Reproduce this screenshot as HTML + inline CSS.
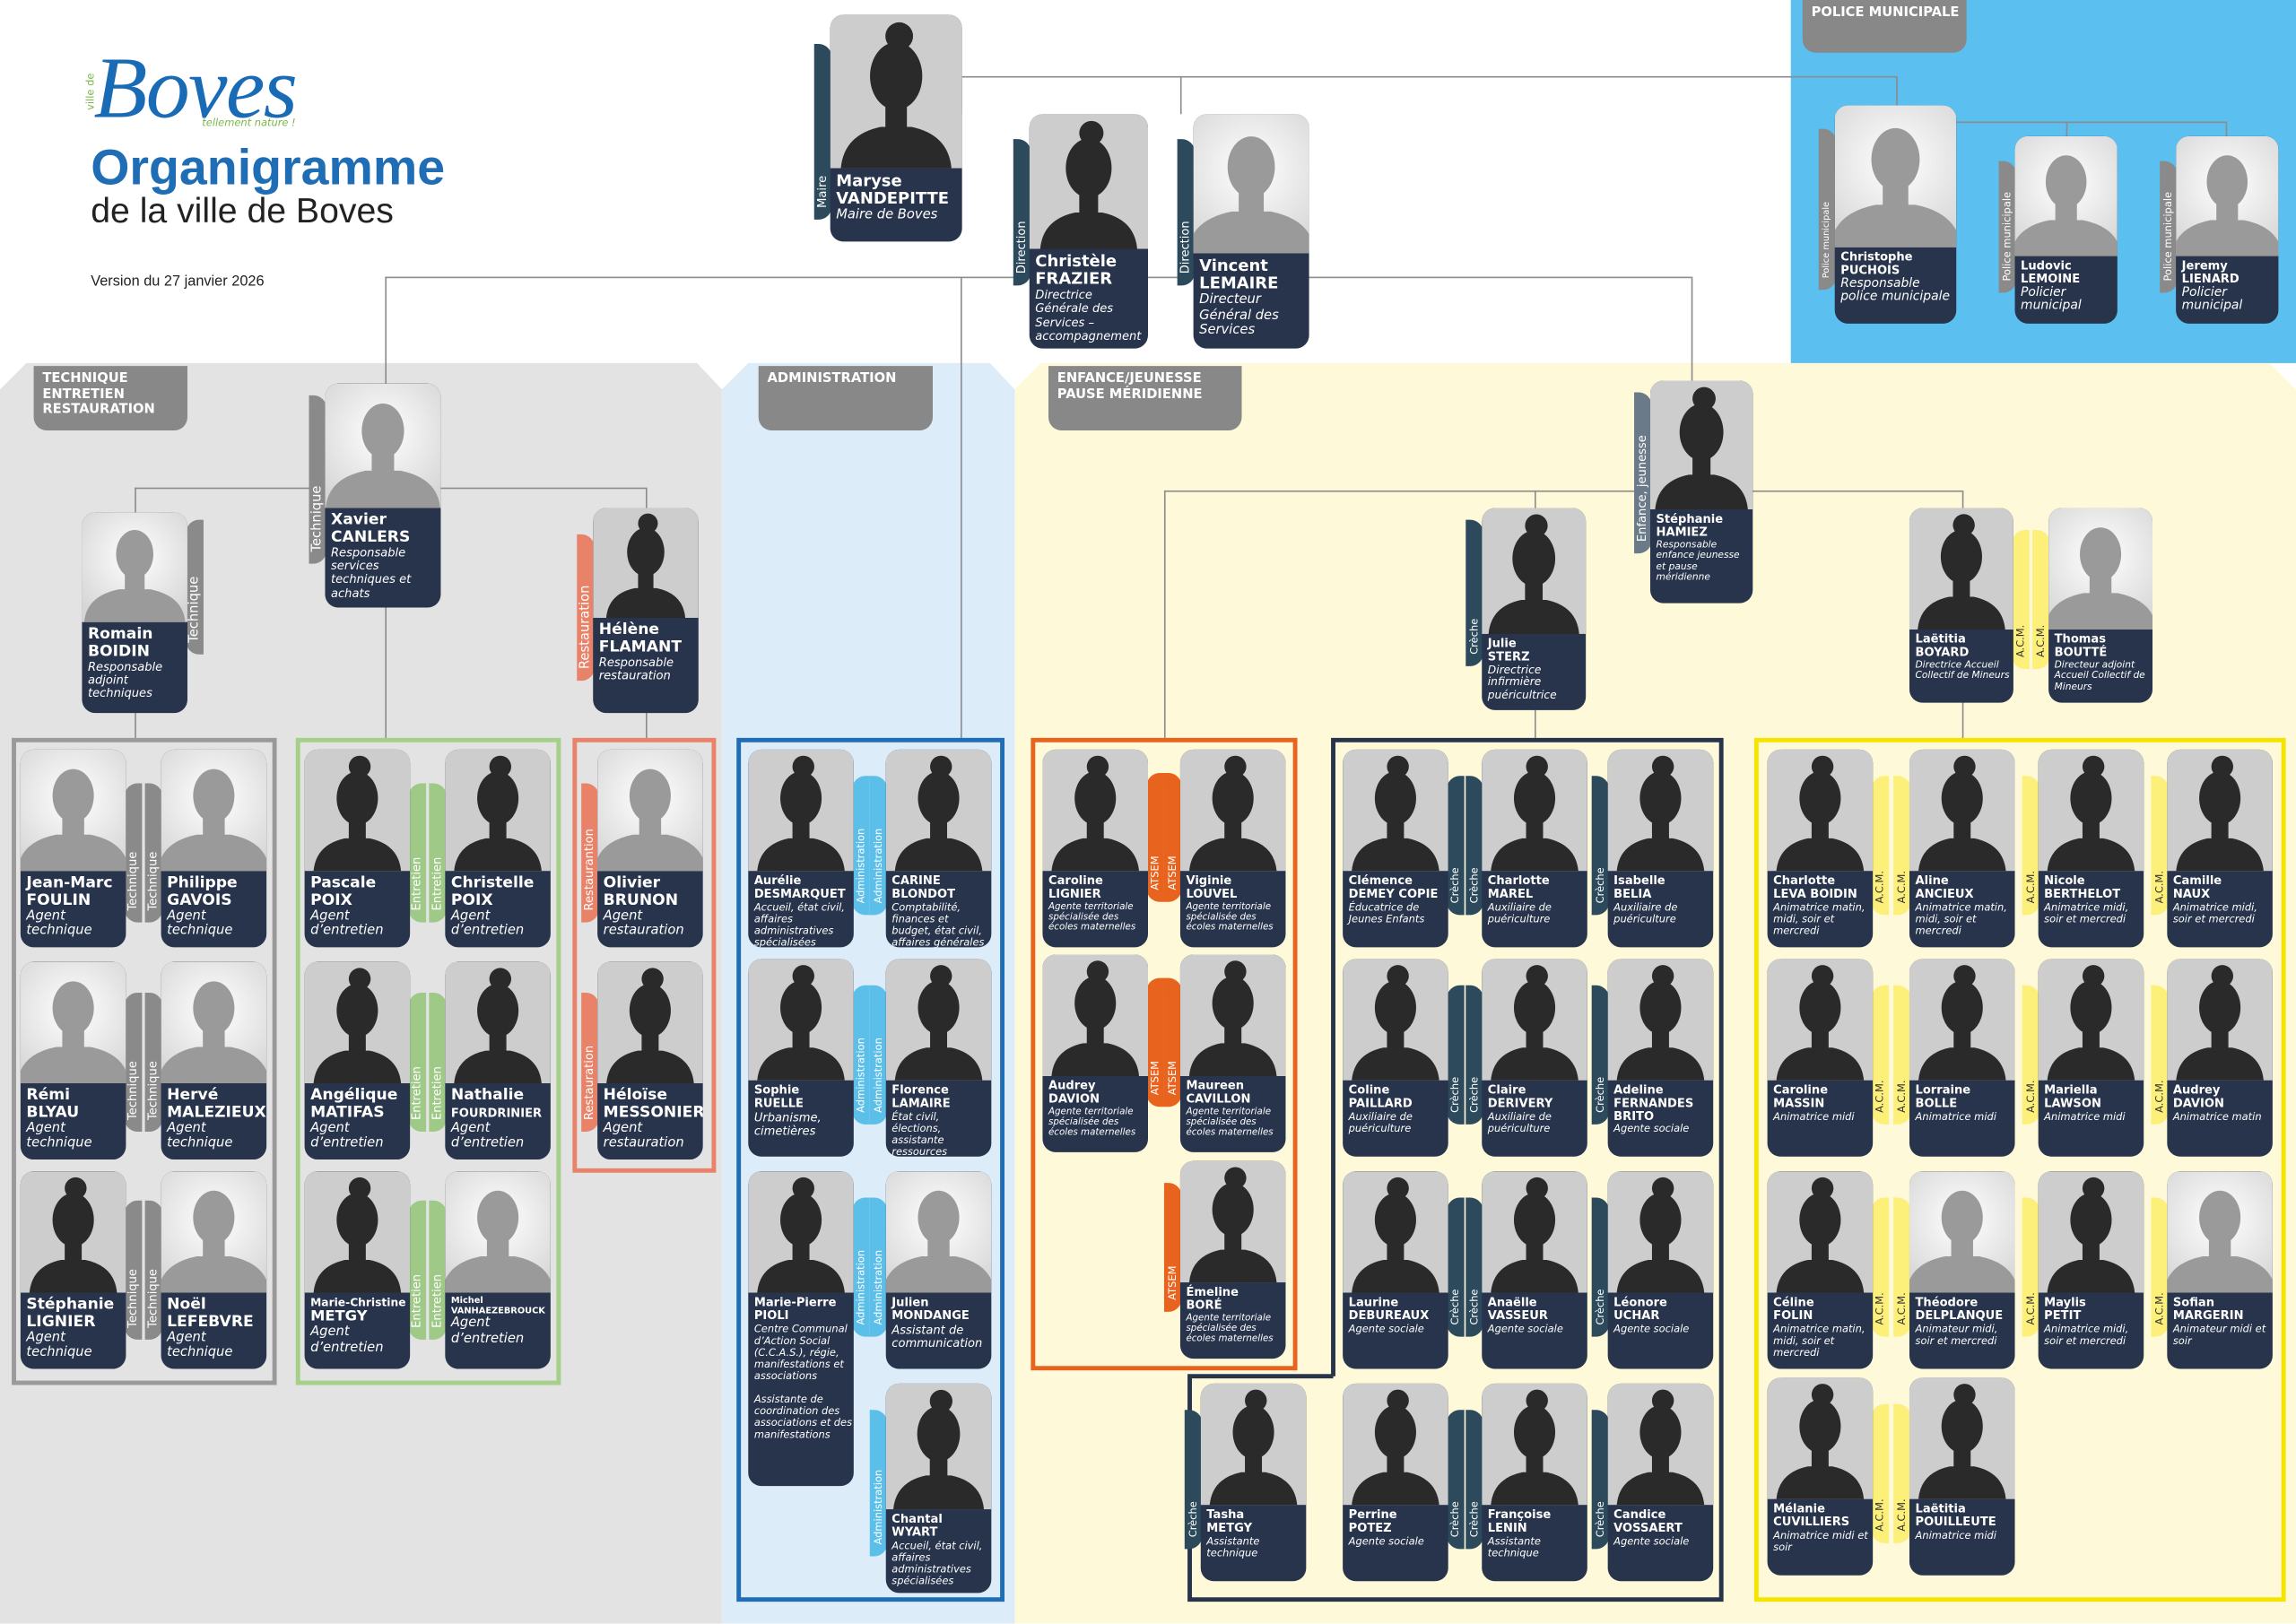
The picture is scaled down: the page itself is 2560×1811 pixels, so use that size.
<!DOCTYPE html>
<html><head><meta charset="utf-8">
<style>
html,body{margin:0;padding:0;background:#fff;overflow:hidden}
body{width:2560px;height:1810px}
#w{position:absolute;left:0;top:0;width:1568px;height:1109px;transform:scale(1.632653);transform-origin:0 0;font-family:"DejaVu Sans","Liberation Sans",sans-serif}
.a{position:absolute}
.hl{position:absolute;height:1px;background:#8c8c8c}
.vl{position:absolute;width:1px;background:#8c8c8c}
.c{position:absolute;background:#27344b;border-radius:9px;overflow:hidden;z-index:3;width:72px;height:135px;--h:83px}
.c svg{position:absolute;left:0;top:0;width:100%;height:var(--h)}
.c .t{position:absolute;left:4px;right:1px;top:var(--h);padding-top:3px;color:#fff;line-height:1.1}
.n{font-weight:bold;font-size:10.5px;display:block}
.s .n{font-size:8px}
.r{font-style:italic;font-size:9px;display:block;line-height:1.15}
.s .r{font-size:7px}
.tb{position:absolute;width:12px;color:#fff;font-size:8px;writing-mode:vertical-rl;transform:rotate(180deg);z-index:2;white-space:nowrap;line-height:12px;padding-top:8px;box-sizing:border-box;overflow:hidden}
.L{border-radius:0 9px 9px 0}
.R{border-radius:9px 0 0 9px}
.gy{background:#8a8a8a}.gn{background:#9fc987}.or{background:#e8836a}.bl{background:#5bbfe9}.at{background:#e8641e}.cr{background:#2d4a5c}.ye{background:#fdf07a;color:#333}
.lab{position:absolute;background:#888;color:#fff;font-weight:bold;font-size:9px;line-height:10.5px;padding:4px 6px;box-sizing:border-box;border-radius:0 0 9px 9px;white-space:nowrap}
.box{position:absolute;box-sizing:border-box;border-width:3px;border-style:solid}
</style></head><body>
<svg width="0" height="0" style="position:absolute">
<defs>
<radialGradient id="g" cx="50%" cy="40%" r="65%"><stop offset="0" stop-color="#fff"/><stop offset="1" stop-color="#d6d6d6"/></radialGradient>
<symbol id="F" viewBox="0 0 100 100"><rect width="100" height="100" fill="#cdcdcd"/><g fill="#2a2a2a"><circle cx="52" cy="14" r="9"/><ellipse cx="50" cy="40" rx="17" ry="22"/><rect x="43" y="55" width="14" height="22"/><path d="M14 100 Q16 78 40 73 L60 73 Q84 78 86 100Z"/></g></symbol>
<symbol id="M" viewBox="0 0 100 100"><rect width="100" height="100" fill="url(#g)"/><g fill="#9a9a9a"><ellipse cx="50" cy="38" rx="17" ry="22"/><rect x="41" y="52" width="18" height="22"/><path d="M4 100 Q6 76 36 70 L64 70 Q94 76 96 100Z"/></g></symbol>
</defs></svg>
<div id="w">
<svg class="a" style="left:0;top:0" width="1568" height="1109">
<polygon points="0,266 18,248 476,248 493,266 493,1109 0,1109" fill="#e3e3e3"/>
<polygon points="493,266 511,248 676,248 693,266 693,1109 493,1109" fill="#dcecf9"/>
<polygon points="693,266 711,248 1550,248 1568,266 1568,1109 693,1109" fill="#fef9d8"/>
<rect x="1223" y="0" width="345" height="248" fill="#5bc0f0"/>
</svg>
<div class="a" style="left:64px;top:26px;font-family:'Liberation Serif',serif;font-style:italic;font-size:60px;color:#1a6bb5;letter-spacing:-1px">Boves</div>
<div class="a" style="left:58px;top:50px;font-size:7px;color:#7ab648;writing-mode:vertical-rl;transform:rotate(180deg)">ville de</div>
<div class="a" style="left:138px;top:80px;font-size:7px;color:#7ab648;font-style:italic">tellement nature !</div>
<div class="a" style="left:62px;top:96px;font-size:34px;font-weight:bold;color:#1f6db5;font-family:'Liberation Sans',sans-serif">Organigramme</div>
<div class="a" style="left:62px;top:131px;font-size:24px;color:#222;font-family:'Liberation Sans',sans-serif">de la ville de Boves</div>
<div class="a" style="left:62px;top:187px;font-size:10px;color:#222;font-family:'Liberation Sans',sans-serif">Version du 27 janvier 2026</div>
<div class="lab" style="left:23px;top:250px;width:105px;height:44px">TECHNIQUE<br>ENTRETIEN<br>RESTAURATION</div>
<div class="lab" style="left:518px;top:250px;width:119px;height:44px">ADMINISTRATION</div>
<div class="lab" style="left:716px;top:250px;width:132px;height:44px">ENFANCE/JEUNESSE<br>PAUSE MÉRIDIENNE</div>
<div class="lab" style="left:1231px;top:0;width:112px;height:36px">POLICE MUNICIPALE</div>
<div class="hl" style="left:657px;top:52px;width:638px"></div>
<div class="vl" style="left:1295px;top:52px;height:20px"></div>
<div class="vl" style="left:656px;top:52px;height:26px"></div>
<div class="vl" style="left:806px;top:52px;height:26px"></div>
<div class="hl" style="left:1336px;top:83px;width:184px"></div>
<div class="vl" style="left:1411px;top:83px;height:10px"></div>
<div class="vl" style="left:1520px;top:83px;height:10px"></div>
<div class="hl" style="left:263px;top:189px;width:892px"></div>
<div class="vl" style="left:263px;top:189px;height:73px"></div>
<div class="vl" style="left:656px;top:189px;height:316px"></div>
<div class="vl" style="left:1155px;top:189px;height:71px"></div>
<div class="hl" style="left:92px;top:333px;width:349px"></div>
<div class="vl" style="left:92px;top:333px;height:172px"></div>
<div class="vl" style="left:441px;top:333px;height:172px"></div>
<div class="vl" style="left:263px;top:333px;height:172px"></div>
<div class="hl" style="left:795px;top:335px;width:545px"></div>
<div class="vl" style="left:795px;top:335px;height:170px"></div>
<div class="vl" style="left:1048px;top:335px;height:170px"></div>
<div class="vl" style="left:1340px;top:335px;height:170px"></div>
<div class="box" style="left:8px;top:504px;width:181px;height:442px;border-color:#9a9a9a"></div>
<div class="box" style="left:202px;top:504px;width:181px;height:442px;border-color:#a6cf8a"></div>
<div class="box" style="left:391px;top:504px;width:98px;height:297px;border-color:#e8836a"></div>
<div class="box" style="left:503px;top:504px;width:183px;height:590px;border-color:#1f6db5"></div>
<div class="box" style="left:704px;top:504px;width:182px;height:432px;border-color:#e8641e"></div>
<svg class="a" style="left:0;top:0;z-index:1" width="1568" height="1109"><polyline points="910.5,940 910.5,505.5 1175.5,505.5 1175.5,1092.5 812.5,1092.5 812.5,940 910.5,940" fill="none" stroke="#27344b" stroke-width="3"/></svg>
<div class="box" style="left:1198px;top:504px;width:363px;height:590px;border-color:#f5e400"></div>

<div class="tb cr R" style="left:556px;top:30px;height:120px;background:#2d4a5c">Maire</div>
<div class="c" style="left:567px;top:10px;width:90px;height:155px;--h:105px"><svg viewBox="0 0 100 100" preserveAspectRatio="xMidYMax slice"><use href="#F" width="100" height="100"/></svg><div class="t"><span class="n" style="font-size:11px">Maryse<br>VANDEPITTE</span><span class="r" style="font-size:9px">Maire de Boves</span></div></div>
<div class="tb cr R" style="left:692px;top:95px;height:100px">Direction</div>
<div class="c" style="left:703px;top:78px;width:81px;height:160px;--h:92px"><svg viewBox="0 0 100 100" preserveAspectRatio="xMidYMax slice"><use href="#F" width="100" height="100"/></svg><div class="t"><span class="n" style="font-size:11px">Christèle<br>FRAZIER</span><span class="r" style="font-size:8px">Directrice Générale des Services – accompagnement</span></div></div>
<div class="tb cr R" style="left:804px;top:95px;height:100px">Direction</div>
<div class="c" style="left:815px;top:78px;width:79px;height:160px;--h:95px"><svg viewBox="0 0 100 100" preserveAspectRatio="xMidYMax slice"><use href="#M" width="100" height="100"/></svg><div class="t"><span class="n" style="font-size:11px">Vincent<br>LEMAIRE</span><span class="r" style="font-size:9px">Directeur Général des Services</span></div></div>
<div class="tb gy R" style="left:1242px;top:88px;height:110px;font-size:6px">Police municipale</div>
<div class="c s" style="left:1253px;top:72px;width:83px;height:149px;--h:97px"><svg viewBox="0 0 100 100" preserveAspectRatio="xMidYMax slice"><use href="#M" width="100" height="100"/></svg><div class="t"><span class="n">Christophe<br>PUCHOIS</span><span class="r" style="font-size:8.5px">Responsable police municipale</span></div></div>
<div class="tb gy R" style="left:1365px;top:110px;height:90px;font-size:7px">Police municipale</div>
<div class="c s" style="left:1376px;top:93px;width:70px;height:128px;--h:82px"><svg viewBox="0 0 100 100" preserveAspectRatio="xMidYMax slice"><use href="#M" width="100" height="100"/></svg><div class="t"><span class="n">Ludovic<br>LEMOINE</span><span class="r" style="font-size:8.5px">Policier municipal</span></div></div>
<div class="tb gy R" style="left:1475px;top:110px;height:90px;font-size:7px">Police municipale</div>
<div class="c s" style="left:1486px;top:93px;width:70px;height:128px;--h:82px"><svg viewBox="0 0 100 100" preserveAspectRatio="xMidYMax slice"><use href="#M" width="100" height="100"/></svg><div class="t"><span class="n">Jeremy<br>LIENARD</span><span class="r" style="font-size:8.5px">Policier municipal</span></div></div>

<div class="tb gy R" style="left:211px;top:270px;height:115px;font-size:9px">Technique</div>
<div class="c" style="left:222px;top:262px;width:79px;height:153px;--h:85px"><svg viewBox="0 0 100 100" preserveAspectRatio="xMidYMax slice"><use href="#M" width="100" height="100"/></svg><div class="t"><span class="n">Xavier<br>CANLERS</span><span class="r" style="font-size:8px">Responsable services techniques et achats</span></div></div>
<div class="tb gy L" style="left:127px;top:355px;height:92px;font-size:9px">Technique</div>
<div class="c" style="left:56px;top:350px;width:72px;height:137px;--h:75px"><svg viewBox="0 0 100 100" preserveAspectRatio="xMidYMax slice"><use href="#M" width="100" height="100"/></svg><div class="t"><span class="n">Romain<br>BOIDIN</span><span class="r" style="font-size:8px">Responsable adjoint techniques</span></div></div>
<div class="tb or R" style="left:394px;top:365px;height:100px;font-size:9px">Restauration</div>
<div class="c" style="left:405px;top:347px;width:72px;height:140px;--h:75px"><svg viewBox="0 0 100 100" preserveAspectRatio="xMidYMax slice"><use href="#F" width="100" height="100"/></svg><div class="t"><span class="n">Hélène<br>FLAMANT</span><span class="r" style="font-size:8px">Responsable restauration</span></div></div>

<div class="tb gy L" style="left:85px;top:535px;height:95px">Technique</div>
<div class="c" style="left:14px;top:512px"><svg viewBox="0 0 100 100" preserveAspectRatio="xMidYMax slice"><use href="#M" width="100" height="100"/></svg><div class="t"><span class="n">Jean-Marc<br>FOULIN</span><span class="r">Agent technique</span></div></div>
<div class="tb gy R" style="left:99px;top:535px;height:95px">Technique</div>
<div class="c" style="left:110px;top:512px"><svg viewBox="0 0 100 100" preserveAspectRatio="xMidYMax slice"><use href="#M" width="100" height="100"/></svg><div class="t"><span class="n">Philippe<br>GAVOIS</span><span class="r">Agent technique</span></div></div>
<div class="tb gy L" style="left:85px;top:678px;height:95px">Technique</div>
<div class="c" style="left:14px;top:657px"><svg viewBox="0 0 100 100" preserveAspectRatio="xMidYMax slice"><use href="#M" width="100" height="100"/></svg><div class="t"><span class="n">Rémi<br>BLYAU</span><span class="r">Agent technique</span></div></div>
<div class="tb gy R" style="left:99px;top:678px;height:95px">Technique</div>
<div class="c" style="left:110px;top:657px"><svg viewBox="0 0 100 100" preserveAspectRatio="xMidYMax slice"><use href="#M" width="100" height="100"/></svg><div class="t"><span class="n">Hervé<br>MALEZIEUX</span><span class="r">Agent technique</span></div></div>
<div class="tb gy L" style="left:85px;top:820px;height:95px">Technique</div>
<div class="c" style="left:14px;top:800px"><svg viewBox="0 0 100 100" preserveAspectRatio="xMidYMax slice"><use href="#F" width="100" height="100"/></svg><div class="t"><span class="n">Stéphanie<br>LIGNIER</span><span class="r">Agent technique</span></div></div>
<div class="tb gy R" style="left:99px;top:820px;height:95px">Technique</div>
<div class="c" style="left:110px;top:800px"><svg viewBox="0 0 100 100" preserveAspectRatio="xMidYMax slice"><use href="#M" width="100" height="100"/></svg><div class="t"><span class="n">Noël<br>LEFEBVRE</span><span class="r">Agent technique</span></div></div>

<div class="tb gn L" style="left:279px;top:535px;height:95px">Entretien</div>
<div class="c" style="left:208px;top:512px"><svg viewBox="0 0 100 100" preserveAspectRatio="xMidYMax slice"><use href="#F" width="100" height="100"/></svg><div class="t"><span class="n">Pascale<br>POIX</span><span class="r">Agent d’entretien</span></div></div>
<div class="tb gn R" style="left:293px;top:535px;height:95px">Entretien</div>
<div class="c" style="left:304px;top:512px"><svg viewBox="0 0 100 100" preserveAspectRatio="xMidYMax slice"><use href="#F" width="100" height="100"/></svg><div class="t"><span class="n">Christelle<br>POIX</span><span class="r">Agent d’entretien</span></div></div>
<div class="tb gn L" style="left:279px;top:678px;height:95px">Entretien</div>
<div class="c" style="left:208px;top:657px"><svg viewBox="0 0 100 100" preserveAspectRatio="xMidYMax slice"><use href="#F" width="100" height="100"/></svg><div class="t"><span class="n">Angélique<br>MATIFAS</span><span class="r">Agent d’entretien</span></div></div>
<div class="tb gn R" style="left:293px;top:678px;height:95px">Entretien</div>
<div class="c" style="left:304px;top:657px"><svg viewBox="0 0 100 100" preserveAspectRatio="xMidYMax slice"><use href="#F" width="100" height="100"/></svg><div class="t"><span class="n">Nathalie<br><span style="font-size:8px">FOURDRINIER</span></span><span class="r">Agent d’entretien</span></div></div>
<div class="tb gn L" style="left:279px;top:820px;height:95px">Entretien</div>
<div class="c" style="left:208px;top:800px"><svg viewBox="0 0 100 100" preserveAspectRatio="xMidYMax slice"><use href="#F" width="100" height="100"/></svg><div class="t"><span class="n" style="font-size:7.5px;white-space:nowrap">Marie-Christine<br><span style="font-size:10px">METGY</span></span><span class="r">Agent d’entretien</span></div></div>
<div class="tb gn R" style="left:293px;top:820px;height:95px">Entretien</div>
<div class="c" style="left:304px;top:800px"><svg viewBox="0 0 100 100" preserveAspectRatio="xMidYMax slice"><use href="#M" width="100" height="100"/></svg><div class="t"><span class="n" style="font-size:6px">Michel<br>VANHAEZEBROUCK</span><span class="r">Agent d’entretien</span></div></div>

<div class="tb or R" style="left:397px;top:535px;height:95px">Restaurantion</div>
<div class="c" style="left:408px;top:512px"><svg viewBox="0 0 100 100" preserveAspectRatio="xMidYMax slice"><use href="#M" width="100" height="100"/></svg><div class="t"><span class="n">Olivier<br>BRUNON</span><span class="r">Agent restauration</span></div></div>
<div class="tb or R" style="left:397px;top:678px;height:95px">Restauration</div>
<div class="c" style="left:408px;top:657px"><svg viewBox="0 0 100 100" preserveAspectRatio="xMidYMax slice"><use href="#F" width="100" height="100"/></svg><div class="t"><span class="n">Héloïse<br>MESSONIER</span><span class="r">Agent restauration</span></div></div>

<div class="tb bl L" style="left:582px;top:530px;height:95px;font-size:7px">Administration</div>
<div class="c s" style="left:511px;top:512px"><svg viewBox="0 0 100 100" preserveAspectRatio="xMidYMax slice"><use href="#F" width="100" height="100"/></svg><div class="t"><span class="n">Aurélie<br>DESMARQUET</span><span class="r">Accueil, état civil, affaires administratives spécialisées</span></div></div>
<div class="tb bl R" style="left:594px;top:530px;height:95px;font-size:7px">Administration</div>
<div class="c s" style="left:605px;top:512px"><svg viewBox="0 0 100 100" preserveAspectRatio="xMidYMax slice"><use href="#F" width="100" height="100"/></svg><div class="t"><span class="n">CARINE<br>BLONDOT</span><span class="r">Comptabilité, finances et budget, état civil, affaires générales</span></div></div>
<div class="tb bl L" style="left:582px;top:673px;height:95px;font-size:7px">Administration</div>
<div class="c s" style="left:511px;top:655px"><svg viewBox="0 0 100 100" preserveAspectRatio="xMidYMax slice"><use href="#F" width="100" height="100"/></svg><div class="t"><span class="n">Sophie<br>RUELLE</span><span class="r" style="font-size:8px">Urbanisme, cimetières</span></div></div>
<div class="tb bl R" style="left:594px;top:673px;height:95px;font-size:7px">Administration</div>
<div class="c s" style="left:605px;top:655px"><svg viewBox="0 0 100 100" preserveAspectRatio="xMidYMax slice"><use href="#F" width="100" height="100"/></svg><div class="t"><span class="n">Florence<br>LAMAIRE</span><span class="r">État civil, élections, assistante ressources humaines</span></div></div>
<div class="tb bl L" style="left:582px;top:818px;height:95px;font-size:7px">Administration</div>
<div class="c s" style="left:511px;top:800px;height:215px"><svg viewBox="0 0 100 100" preserveAspectRatio="xMidYMax slice"><use href="#F" width="100" height="100"/></svg><div class="t"><span class="n">Marie-Pierre<br>PIOLI</span><span class="r">Centre Communal d’Action Social (C.C.A.S.), régie, manifestations et associations<br><br>Assistante de coordination des associations et des manifestations</span></div></div>
<div class="tb bl R" style="left:594px;top:818px;height:95px;font-size:7px">Administration</div>
<div class="c s" style="left:605px;top:800px"><svg viewBox="0 0 100 100" preserveAspectRatio="xMidYMax slice"><use href="#M" width="100" height="100"/></svg><div class="t"><span class="n">Julien<br>MONDANGE</span><span class="r" style="font-size:8px">Assistant de communication</span></div></div>
<div class="tb bl R" style="left:594px;top:963px;height:100px;font-size:7px">Administration</div>
<div class="c s" style="left:605px;top:945px;height:143px;--h:86px"><svg viewBox="0 0 100 100" preserveAspectRatio="xMidYMax slice"><use href="#F" width="100" height="100"/></svg><div class="t"><span class="n">Chantal<br>WYART</span><span class="r">Accueil, état civil, affaires administratives spécialisées</span></div></div>

<div class="tb at L" style="left:783px;top:528px;height:88px;font-size:7px">ATSEM</div>
<div class="c s" style="left:712px;top:512px"><svg viewBox="0 0 100 100" preserveAspectRatio="xMidYMax slice"><use href="#F" width="100" height="100"/></svg><div class="t"><span class="n">Caroline<br>LIGNIER</span><span class="r" style="font-size:6.3px">Agente territoriale spécialisée des écoles maternelles</span></div></div>
<div class="tb at R" style="left:795px;top:528px;height:88px;font-size:7px">ATSEM</div>
<div class="c s" style="left:806px;top:512px"><svg viewBox="0 0 100 100" preserveAspectRatio="xMidYMax slice"><use href="#F" width="100" height="100"/></svg><div class="t"><span class="n">Viginie<br>LOUVEL</span><span class="r" style="font-size:6.3px">Agente territoriale spécialisée des écoles maternelles</span></div></div>
<div class="tb at L" style="left:783px;top:668px;height:88px;font-size:7px">ATSEM</div>
<div class="c s" style="left:712px;top:652px"><svg viewBox="0 0 100 100" preserveAspectRatio="xMidYMax slice"><use href="#F" width="100" height="100"/></svg><div class="t"><span class="n">Audrey<br>DAVION</span><span class="r" style="font-size:6.3px">Agente territoriale spécialisée des écoles maternelles</span></div></div>
<div class="tb at R" style="left:795px;top:668px;height:88px;font-size:7px">ATSEM</div>
<div class="c s" style="left:806px;top:652px"><svg viewBox="0 0 100 100" preserveAspectRatio="xMidYMax slice"><use href="#F" width="100" height="100"/></svg><div class="t"><span class="n">Maureen<br>CAVILLON</span><span class="r" style="font-size:6.3px">Agente territoriale spécialisée des écoles maternelles</span></div></div>
<div class="tb at R" style="left:795px;top:808px;height:88px;font-size:7px">ATSEM</div>
<div class="c s" style="left:806px;top:793px"><svg viewBox="0 0 100 100" preserveAspectRatio="xMidYMax slice"><use href="#F" width="100" height="100"/></svg><div class="t"><span class="n">Émeline<br>BORÉ</span><span class="r" style="font-size:6.3px">Agente territoriale spécialisée des écoles maternelles</span></div></div>

<div class="tb cr R" style="left:1001px;top:355px;height:100px;font-size:7px">Crèche</div>
<div class="c s" style="left:1012px;top:347px;width:71px;height:138px;--h:86px"><svg viewBox="0 0 100 100" preserveAspectRatio="xMidYMax slice"><use href="#F" width="100" height="100"/></svg><div class="t"><span class="n">Julie<br>STERZ</span><span class="r" style="font-size:7.5px">Directrice infirmière puéricultrice</span></div></div>
<div class="tb R" style="left:1116px;top:268px;height:110px;font-size:8px;background:#6a7a88">Enfance, jeunesse</div>
<div class="c s" style="left:1127px;top:260px;width:70px;height:152px;--h:88px"><svg viewBox="0 0 100 100" preserveAspectRatio="xMidYMax slice"><use href="#F" width="100" height="100"/></svg><div class="t"><span class="n">Stéphanie<br>HAMIEZ</span><span class="r" style="font-size:6.5px">Responsable enfance jeunesse et pause méridienne</span></div></div>

<div class="tb cr L" style="left:988px;top:530px;height:95px;font-size:7px">Crèche</div>
<div class="c s" style="left:917px;top:512px"><svg viewBox="0 0 100 100" preserveAspectRatio="xMidYMax slice"><use href="#F" width="100" height="100"/></svg><div class="t"><span class="n">Clémence<br>DEMEY COPIE</span><span class="r">Éducatrice de Jeunes Enfants</span></div></div>
<div class="tb cr R" style="left:1001px;top:530px;height:95px;font-size:7px">Crèche</div>
<div class="c s" style="left:1012px;top:512px"><svg viewBox="0 0 100 100" preserveAspectRatio="xMidYMax slice"><use href="#F" width="100" height="100"/></svg><div class="t"><span class="n">Charlotte<br>MAREL</span><span class="r">Auxiliaire de puériculture</span></div></div>
<div class="tb cr R" style="left:1087px;top:530px;height:95px;font-size:7px">Crèche</div>
<div class="c s" style="left:1098px;top:512px"><svg viewBox="0 0 100 100" preserveAspectRatio="xMidYMax slice"><use href="#F" width="100" height="100"/></svg><div class="t"><span class="n">Isabelle<br>BELIA</span><span class="r">Auxiliaire de puériculture</span></div></div>
<div class="tb cr L" style="left:988px;top:673px;height:95px;font-size:7px">Crèche</div>
<div class="c s" style="left:917px;top:655px"><svg viewBox="0 0 100 100" preserveAspectRatio="xMidYMax slice"><use href="#F" width="100" height="100"/></svg><div class="t"><span class="n">Coline<br>PAILLARD</span><span class="r">Auxiliaire de puériculture</span></div></div>
<div class="tb cr R" style="left:1001px;top:673px;height:95px;font-size:7px">Crèche</div>
<div class="c s" style="left:1012px;top:655px"><svg viewBox="0 0 100 100" preserveAspectRatio="xMidYMax slice"><use href="#F" width="100" height="100"/></svg><div class="t"><span class="n">Claire<br>DERIVERY</span><span class="r">Auxiliaire de puériculture</span></div></div>
<div class="tb cr R" style="left:1087px;top:673px;height:95px;font-size:7px">Crèche</div>
<div class="c s" style="left:1098px;top:655px"><svg viewBox="0 0 100 100" preserveAspectRatio="xMidYMax slice"><use href="#F" width="100" height="100"/></svg><div class="t"><span class="n">Adeline<br>FERNANDES<br>BRITO</span><span class="r">Agente sociale</span></div></div>
<div class="tb cr L" style="left:988px;top:818px;height:95px;font-size:7px">Crèche</div>
<div class="c s" style="left:917px;top:800px"><svg viewBox="0 0 100 100" preserveAspectRatio="xMidYMax slice"><use href="#F" width="100" height="100"/></svg><div class="t"><span class="n">Laurine<br>DEBUREAUX</span><span class="r">Agente sociale</span></div></div>
<div class="tb cr R" style="left:1001px;top:818px;height:95px;font-size:7px">Crèche</div>
<div class="c s" style="left:1012px;top:800px"><svg viewBox="0 0 100 100" preserveAspectRatio="xMidYMax slice"><use href="#F" width="100" height="100"/></svg><div class="t"><span class="n">Anaëlle<br>VASSEUR</span><span class="r">Agente sociale</span></div></div>
<div class="tb cr R" style="left:1087px;top:818px;height:95px;font-size:7px">Crèche</div>
<div class="c s" style="left:1098px;top:800px"><svg viewBox="0 0 100 100" preserveAspectRatio="xMidYMax slice"><use href="#F" width="100" height="100"/></svg><div class="t"><span class="n">Léonore<br>UCHAR</span><span class="r">Agente sociale</span></div></div>
<div class="tb cr R" style="left:809px;top:963px;height:95px;font-size:7px">Crèche</div>
<div class="c s" style="left:820px;top:945px"><svg viewBox="0 0 100 100" preserveAspectRatio="xMidYMax slice"><use href="#F" width="100" height="100"/></svg><div class="t"><span class="n">Tasha<br>METGY</span><span class="r">Assistante technique</span></div></div>
<div class="tb cr L" style="left:988px;top:963px;height:95px;font-size:7px">Crèche</div>
<div class="c s" style="left:917px;top:945px"><svg viewBox="0 0 100 100" preserveAspectRatio="xMidYMax slice"><use href="#F" width="100" height="100"/></svg><div class="t"><span class="n">Perrine<br>POTEZ</span><span class="r">Agente sociale</span></div></div>
<div class="tb cr R" style="left:1001px;top:963px;height:95px;font-size:7px">Crèche</div>
<div class="c s" style="left:1012px;top:945px"><svg viewBox="0 0 100 100" preserveAspectRatio="xMidYMax slice"><use href="#F" width="100" height="100"/></svg><div class="t"><span class="n">Françoise<br>LENIN</span><span class="r">Assistante technique</span></div></div>
<div class="tb cr R" style="left:1087px;top:963px;height:95px;font-size:7px">Crèche</div>
<div class="c s" style="left:1098px;top:945px"><svg viewBox="0 0 100 100" preserveAspectRatio="xMidYMax slice"><use href="#F" width="100" height="100"/></svg><div class="t"><span class="n">Candice<br>VOSSAERT</span><span class="r">Agente sociale</span></div></div>

<div class="tb ye L" style="left:1374px;top:362px;height:95px;font-size:7px">A.C.M.</div>
<div class="c s" style="left:1304px;top:347px;width:71px;height:133px"><svg viewBox="0 0 100 100" preserveAspectRatio="xMidYMax slice"><use href="#F" width="100" height="100"/></svg><div class="t"><span class="n">Laëtitia<br>BOYARD</span><span class="r" style="font-size:6.5px">Directrice Accueil Collectif de Mineurs</span></div></div>
<div class="tb ye R" style="left:1388px;top:362px;height:95px;font-size:7px">A.C.M.</div>
<div class="c s" style="left:1399px;top:347px;width:71px;height:133px"><svg viewBox="0 0 100 100" preserveAspectRatio="xMidYMax slice"><use href="#M" width="100" height="100"/></svg><div class="t"><span class="n">Thomas<br>BOUTTÉ</span><span class="r" style="font-size:6.5px">Directeur adjoint Accueil Collectif de Mineurs</span></div></div>

<div class="tb ye L" style="left:1278px;top:530px;height:95px;font-size:7px">A.C.M.</div>
<div class="c s" style="left:1207px;top:512px"><svg viewBox="0 0 100 100" preserveAspectRatio="xMidYMax slice"><use href="#F" width="100" height="100"/></svg><div class="t"><span class="n">Charlotte<br>LEVA BOIDIN</span><span class="r">Animatrice matin, midi, soir et mercredi</span></div></div>
<div class="tb ye R" style="left:1293px;top:530px;height:95px;font-size:7px">A.C.M.</div>
<div class="c s" style="left:1304px;top:512px"><svg viewBox="0 0 100 100" preserveAspectRatio="xMidYMax slice"><use href="#F" width="100" height="100"/></svg><div class="t"><span class="n">Aline<br>ANCIEUX</span><span class="r">Animatrice matin, midi, soir et mercredi</span></div></div>
<div class="tb ye R" style="left:1381px;top:530px;height:95px;font-size:7px">A.C.M.</div>
<div class="c s" style="left:1392px;top:512px"><svg viewBox="0 0 100 100" preserveAspectRatio="xMidYMax slice"><use href="#F" width="100" height="100"/></svg><div class="t"><span class="n">Nicole<br>BERTHELOT</span><span class="r">Animatrice midi, soir et mercredi</span></div></div>
<div class="tb ye R" style="left:1469px;top:530px;height:95px;font-size:7px">A.C.M.</div>
<div class="c s" style="left:1480px;top:512px"><svg viewBox="0 0 100 100" preserveAspectRatio="xMidYMax slice"><use href="#F" width="100" height="100"/></svg><div class="t"><span class="n">Camille<br>NAUX</span><span class="r">Animatrice midi, soir et mercredi</span></div></div>
<div class="tb ye L" style="left:1278px;top:673px;height:95px;font-size:7px">A.C.M.</div>
<div class="c s" style="left:1207px;top:655px"><svg viewBox="0 0 100 100" preserveAspectRatio="xMidYMax slice"><use href="#F" width="100" height="100"/></svg><div class="t"><span class="n">Caroline<br>MASSIN</span><span class="r">Animatrice midi</span></div></div>
<div class="tb ye R" style="left:1293px;top:673px;height:95px;font-size:7px">A.C.M.</div>
<div class="c s" style="left:1304px;top:655px"><svg viewBox="0 0 100 100" preserveAspectRatio="xMidYMax slice"><use href="#F" width="100" height="100"/></svg><div class="t"><span class="n">Lorraine<br>BOLLE</span><span class="r">Animatrice midi</span></div></div>
<div class="tb ye R" style="left:1381px;top:673px;height:95px;font-size:7px">A.C.M.</div>
<div class="c s" style="left:1392px;top:655px"><svg viewBox="0 0 100 100" preserveAspectRatio="xMidYMax slice"><use href="#F" width="100" height="100"/></svg><div class="t"><span class="n">Mariella<br>LAWSON</span><span class="r">Animatrice midi</span></div></div>
<div class="tb ye R" style="left:1469px;top:673px;height:95px;font-size:7px">A.C.M.</div>
<div class="c s" style="left:1480px;top:655px"><svg viewBox="0 0 100 100" preserveAspectRatio="xMidYMax slice"><use href="#F" width="100" height="100"/></svg><div class="t"><span class="n">Audrey<br>DAVION</span><span class="r">Animatrice matin</span></div></div>
<div class="tb ye L" style="left:1278px;top:818px;height:95px;font-size:7px">A.C.M.</div>
<div class="c s" style="left:1207px;top:800px"><svg viewBox="0 0 100 100" preserveAspectRatio="xMidYMax slice"><use href="#F" width="100" height="100"/></svg><div class="t"><span class="n">Céline<br>FOLIN</span><span class="r">Animatrice matin, midi, soir et mercredi</span></div></div>
<div class="tb ye R" style="left:1293px;top:818px;height:95px;font-size:7px">A.C.M.</div>
<div class="c s" style="left:1304px;top:800px"><svg viewBox="0 0 100 100" preserveAspectRatio="xMidYMax slice"><use href="#M" width="100" height="100"/></svg><div class="t"><span class="n">Théodore<br>DELPLANQUE</span><span class="r">Animateur midi, soir et mercredi</span></div></div>
<div class="tb ye R" style="left:1381px;top:818px;height:95px;font-size:7px">A.C.M.</div>
<div class="c s" style="left:1392px;top:800px"><svg viewBox="0 0 100 100" preserveAspectRatio="xMidYMax slice"><use href="#F" width="100" height="100"/></svg><div class="t"><span class="n">Maylis<br>PETIT</span><span class="r">Animatrice midi, soir et mercredi</span></div></div>
<div class="tb ye R" style="left:1469px;top:818px;height:95px;font-size:7px">A.C.M.</div>
<div class="c s" style="left:1480px;top:800px"><svg viewBox="0 0 100 100" preserveAspectRatio="xMidYMax slice"><use href="#M" width="100" height="100"/></svg><div class="t"><span class="n">Sofian<br>MARGERIN</span><span class="r">Animateur midi et soir</span></div></div>
<div class="tb ye L" style="left:1278px;top:959px;height:95px;font-size:7px">A.C.M.</div>
<div class="c s" style="left:1207px;top:941px"><svg viewBox="0 0 100 100" preserveAspectRatio="xMidYMax slice"><use href="#F" width="100" height="100"/></svg><div class="t"><span class="n">Mélanie<br>CUVILLIERS</span><span class="r">Animatrice midi et soir</span></div></div>
<div class="tb ye R" style="left:1293px;top:959px;height:95px;font-size:7px">A.C.M.</div>
<div class="c s" style="left:1304px;top:941px"><svg viewBox="0 0 100 100" preserveAspectRatio="xMidYMax slice"><use href="#F" width="100" height="100"/></svg><div class="t"><span class="n">Laëtitia<br>POUILLEUTE</span><span class="r">Animatrice midi</span></div></div>
</div>
</body></html>
